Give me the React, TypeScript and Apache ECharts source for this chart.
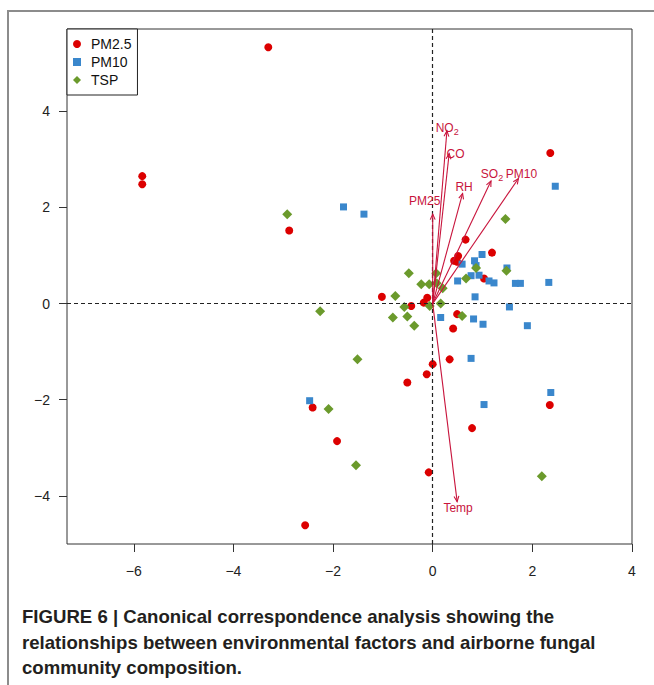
import React, { useEffect, useRef } from 'react';
import * as echarts from 'echarts';

const FONT = '"Liberation Sans", Arial, Helvetica, sans-serif';

const xTicks = [-6, -4, -2, 0, 2, 4];
const yTicks = [-4, -2, 0, 2, 4];

const seriesNames = ['PM2.5', 'PM10', 'TSP'];

const pm25X = [-3.30, -5.83, -5.83, -2.88, 2.36, -1.02, -0.43, -0.18, -0.11, 0.66, 0.51, 0.43, 0.49, 1.19, 1.03, 0.49, 0.41, 0.34, 0.00, -0.12, -0.51, -2.41, -1.92, 0.79, 2.35, -0.08, -2.56];
const pm25Y = [5.33, 2.65, 2.48, 1.52, 3.13, 0.14, -0.05, 0.02, 0.12, 1.33, 0.99, 0.89, 0.87, 1.06, 0.52, -0.22, -0.52, -1.16, -1.26, -1.47, -1.64, -2.16, -2.86, -2.59, -2.11, -3.51, -4.61];

const pm10X = [-1.79, -1.38, 2.46, 0.99, 0.84, 0.87, 0.59, 0.77, 0.93, 0.50, 1.13, 1.23, 1.49, 1.66, 1.76, 2.33, 0.85, 1.54, 0.16, 0.82, 1.01, 1.90, 0.77, 2.37, 1.03, -2.47];
const pm10Y = [2.01, 1.86, 2.44, 1.02, 0.89, 0.79, 0.82, 0.58, 0.59, 0.47, 0.47, 0.43, 0.74, 0.42, 0.42, 0.44, 0.14, -0.07, -0.29, -0.32, -0.43, -0.46, -1.14, -1.85, -2.10, -2.02];

const tspX = [-2.92, 1.46, -0.48, -0.23, -0.07, 0.07, 0.08, 0.20, 0.87, 0.67, 1.48, -0.75, -0.57, -0.06, 0.16, -2.26, -0.80, -0.51, -0.37, 0.59, -1.51, -2.09, -1.54, 2.19];
const tspY = [1.86, 1.76, 0.63, 0.40, 0.40, 0.63, 0.42, 0.32, 0.74, 0.52, 0.68, 0.16, -0.07, -0.05, 0.00, -0.16, -0.29, -0.27, -0.46, -0.26, -1.16, -2.19, -3.36, -3.59];

// environmental vectors (arrow tips) and where their labels sit
const envMain = ['NO', 'CO', 'RH', 'SO', 'PM10', 'PM25', 'Temp'];
const envSub = ['2', '', '', '2', '', '', ''];
const envX = [0.285, 0.33, 0.60, 1.17, 1.72, 0.00, 0.49];
const envY = [3.59, 3.12, 2.29, 2.55, 2.60, 1.86, -4.12];
const labelX = [0.29, 0.46, 0.63, 1.19, 1.78, -0.16, 0.51];
const labelY = [3.65, 3.11, 2.42, 2.70, 2.70, 2.13, -4.25];

const captionLines = [
  'FIGURE 6 | Canonical correspondence analysis showing the',
  'relationships between environmental factors and airborne fungal',
  'community composition.',
];

const RED = '#dc0000';
const BLUE = '#3a87cc';
const GREEN = '#6b9a2c';
const ARROW = '#c8143c';

function measure(text: string, size: number): number {
  const c = document.createElement('canvas');
  const ctx = c.getContext('2d');
  if (!ctx) return text.length * size * 0.6;
  ctx.font = `${size}px ${FONT}`;
  return ctx.measureText(text).width;
}

function zip(xs: number[], ys: number[]) {
  return xs.map((x, i) => [x, ys[i]]);
}

export default function App() {
  const ref = useRef<HTMLDivElement>(null);

  useEffect(() => {
    document.body.style.margin = '0';
    if (!ref.current) return;
    const chart = echarts.init(ref.current, undefined, { renderer: 'svg' });

    const envData = envMain.map((m, i) => [envX[i], envY[i], labelX[i], labelY[i], i]);
    const labelSize = 12;
    const subSize = 9;

    const fmt = (v: number) => String(v).replace('-', '\u2212');

    chart.setOption({
      animation: false,
      backgroundColor: '#fff',
      textStyle: { fontFamily: FONT },
      grid: {
        left: 67, top: 29, width: 565, height: 515,
        show: true, borderColor: '#333', borderWidth: 1, backgroundColor: 'transparent',
      },
      xAxis: {
        type: 'value', min: -7.34, max: 4.0,
        splitLine: { show: false },
        axisLine: { show: false, onZero: false },
        axisTick: { show: true, customValues: xTicks, length: 8, lineStyle: { color: '#333', width: 1 } },
        axisLabel: { customValues: xTicks, margin: 20, fontSize: 14, color: '#222', fontFamily: FONT, formatter: fmt },
      },
      yAxis: {
        type: 'value', min: -5.0, max: 5.71,
        splitLine: { show: false },
        axisLine: { show: false, onZero: false },
        axisTick: { show: true, customValues: yTicks, length: 8, lineStyle: { color: '#333', width: 1 } },
        axisLabel: { customValues: yTicks, margin: 17, fontSize: 14, color: '#222', fontFamily: FONT, formatter: fmt },
      },
      legend: {
        left: 67, top: 29, orient: 'vertical',
        itemWidth: 8, itemHeight: 8, itemGap: 2,
        padding: [7, 6, 7, 6],
        borderColor: '#222', borderWidth: 1, borderRadius: 0,
        backgroundColor: '#fff',
        textStyle: { fontSize: 14, color: '#111', fontFamily: FONT, lineHeight: 16, padding: [0, 0, 0, 5] },
        data: [
          { name: seriesNames[0], icon: 'circle' },
          { name: seriesNames[1], icon: 'rect' },
          { name: seriesNames[2], icon: 'diamond' },
        ],
      },
      series: [
        {
          name: seriesNames[0], type: 'scatter', symbol: 'circle', symbolSize: 8,
          itemStyle: { color: RED, opacity: 1 }, data: zip(pm25X, pm25Y), z: 3,
          markLine: {
            silent: true, symbol: 'none', label: { show: false },
            lineStyle: { color: '#222', type: [4, 3], width: 1.2 },
            data: [{ xAxis: 0 }, { yAxis: 0 }],
            animation: false,
          },
        },
        {
          name: seriesNames[1], type: 'scatter', symbol: 'rect', symbolSize: 7,
          itemStyle: { color: BLUE, opacity: 1 }, data: zip(pm10X, pm10Y), z: 3,
        },
        {
          name: seriesNames[2], type: 'scatter', symbol: 'diamond', symbolSize: 10,
          itemStyle: { color: GREEN, opacity: 1 }, data: zip(tspX, tspY), z: 3,
        },
        {
          name: 'env', type: 'custom', z: 5, silent: true,
          data: envData,
          renderItem: (params: any, api: any) => {
            const i = api.value(4);
            const o = api.coord([0, 0]);
            const t = api.coord([api.value(0), api.value(1)]);
            const l = api.coord([api.value(2), api.value(3)]);
            const ang = Math.atan2(t[1] - o[1], t[0] - o[0]);
            const hl = 6;
            const ha = Math.PI / 7.5;
            const p1 = [t[0] - hl * Math.cos(ang - ha), t[1] - hl * Math.sin(ang - ha)];
            const p2 = [t[0] - hl * Math.cos(ang + ha), t[1] - hl * Math.sin(ang + ha)];
            const main = envMain[i];
            const sub = envSub[i];
            const wMain = measure(main, labelSize);
            const wSub = sub ? measure(sub, subSize) : 0;
            const start = l[0] - (wMain + wSub) / 2;
            const children: any[] = [
              { type: 'line', shape: { x1: o[0], y1: o[1], x2: t[0], y2: t[1] }, style: { stroke: ARROW, lineWidth: 1.1 } },
              { type: 'polyline', shape: { points: [p1, t, p2] }, style: { stroke: ARROW, lineWidth: 1.1, fill: null } },
              {
                type: 'text', x: start, y: l[1],
                style: { text: main, fontSize: labelSize, fontFamily: FONT, fill: ARROW, align: 'left', verticalAlign: 'middle' },
              },
            ];
            if (sub) {
              children.push({
                type: 'text', x: start + wMain, y: l[1] + 4,
                style: { text: sub, fontSize: subSize, fontFamily: FONT, fill: ARROW, align: 'left', verticalAlign: 'middle' },
              });
            }
            return { type: 'group', children };
          },
        },
      ],
      graphic: [
        {
          type: 'polyline', silent: true,
          shape: { points: [[8, 685], [8, 11], [654, 11]] },
          style: { stroke: '#8c8c8c', lineWidth: 2, fill: null },
        },
        ...captionLines.map((t, i) => ({
          type: 'text', left: 22, top: 607 + i * 25.5, silent: true,
          style: { text: t, fontSize: 18.6, fontWeight: 'bold', fontFamily: FONT, fill: '#231f20' },
        })),
      ],
    });

    return () => chart.dispose();
  }, []);

  return <div ref={ref} style={{ width: 654, height: 685 }} />;
}
